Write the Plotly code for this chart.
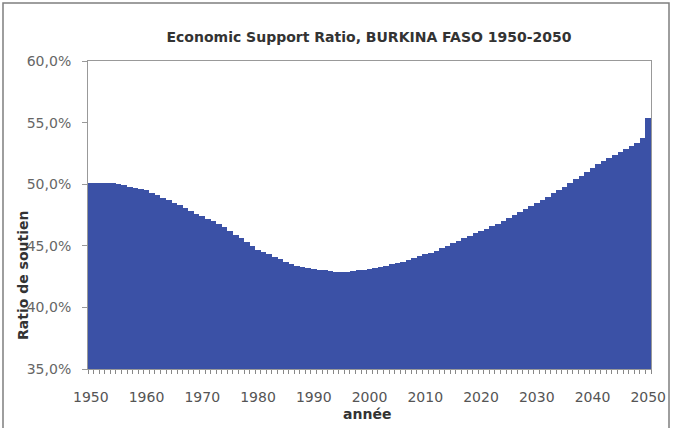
import plotly.graph_objects as go

years = list(range(1950, 2051))
ratio = [
    50.1, 50.1, 50.1, 50.1, 50.1, 50.0, 49.9, 49.8, 49.7, 49.6,
    49.5, 49.3, 49.1, 48.9, 48.7, 48.5, 48.3, 48.1, 47.8, 47.6,
    47.4, 47.2, 47.0, 46.8, 46.5, 46.2, 45.9, 45.6, 45.3, 45.0,
    44.7, 44.5, 44.3, 44.1, 43.9, 43.7, 43.55, 43.4, 43.3, 43.2,
    43.1, 43.05, 43.0, 42.95, 42.9, 42.9, 42.9, 42.95, 43.0, 43.05,
    43.1, 43.2, 43.3, 43.4, 43.5, 43.6, 43.7, 43.85, 44.0, 44.15,
    44.3, 44.45, 44.6, 44.8, 45.0, 45.2, 45.4, 45.6, 45.8, 46.0,
    46.2, 46.4, 46.6, 46.8, 47.0, 47.25, 47.5, 47.75, 48.0, 48.25,
    48.5, 48.75, 49.0, 49.25, 49.5, 49.8, 50.1, 50.4, 50.7, 51.0,
    51.3, 51.6, 51.85, 52.1, 52.35, 52.6, 52.85, 53.1, 53.35, 53.75,
    55.4,
]
x_ticks = [1950, 1960, 1970, 1980, 1990, 2000, 2010, 2020, 2030, 2040, 2050]
y_ticks = [35, 40, 45, 50, 55, 60]
y_labels = ["35,0%", "40,0%", "45,0%", "50,0%", "55,0%", "60,0%"]

L, R, T, B = 88, 23, 61, 59
W, H = 674, 428
pw, ph = W - L - R, H - T - B

def px(xp):
    return (xp - L) / pw

def py(yp):
    return (H - B - yp) / ph

FONT = "DejaVu Sans, Verdana, sans-serif"

fig = go.Figure(go.Bar(x=years, y=ratio, marker=dict(color="#3B51A6", line=dict(width=0))))

fig.update_layout(
    width=W, height=H,
    margin=dict(l=L, r=R, t=T, b=B, autoexpand=False),
    paper_bgcolor="white", plot_bgcolor="white",
    bargap=0,
    showlegend=False,
    font=dict(family=FONT, size=13, color="#555555"),
    title=dict(text="<b>Economic Support Ratio, BURKINA FASO 1950-2050</b>",
               xref="container", yref="container",
               x=369 / W, xanchor="center", y=1 - 37 / H, yanchor="middle",
               font=dict(family=FONT, size=14, color="#333333"),
               automargin=False),
)
fig.update_xaxes(
    range=[1949.5, 2050.5], tickvals=x_ticks, ticks="", automargin=False,
    showgrid=False, zeroline=False, showline=True, linecolor="#999999", mirror=True,
    minor=dict(ticks="outside", ticklen=4, tick0=1949.5, dtick=1, tickcolor="#888888", showgrid=False),
    tickfont=dict(family=FONT, size=14, color="#555555"),
    ticklabelstandoff=15,
)
fig.update_yaxes(
    range=[35, 60], tickvals=y_ticks, ticktext=y_labels, automargin=False,
    ticks="outside", ticklen=5, tickcolor="#999999",
    showgrid=False, zeroline=False, showline=True, linecolor="#999999", mirror=True,
    tickfont=dict(family=FONT, size=14, color="#666666"),
    ticklabelstandoff=8,
)
fig.add_annotation(text="<b>année</b>", xref="paper", yref="paper",
                   x=px(367), y=py(414), xanchor="center", yanchor="middle",
                   showarrow=False,
                   font=dict(family=FONT, size=14, color="#333333"))
fig.add_annotation(text="<b>Ratio de soutien</b>", textangle=-90,
                   xref="paper", yref="paper", x=px(23), y=py(276),
                   xanchor="center", yanchor="middle",
                   showarrow=False, font=dict(family=FONT, size=14, color="#333333"))
fig.add_shape(type="rect", xref="paper", yref="paper",
              x0=px(3), x1=px(669), y0=py(430), y1=py(3),
              line=dict(color="#7F7F7F", width=1.5), fillcolor="rgba(0,0,0,0)")

fig.write_html("out.html")
